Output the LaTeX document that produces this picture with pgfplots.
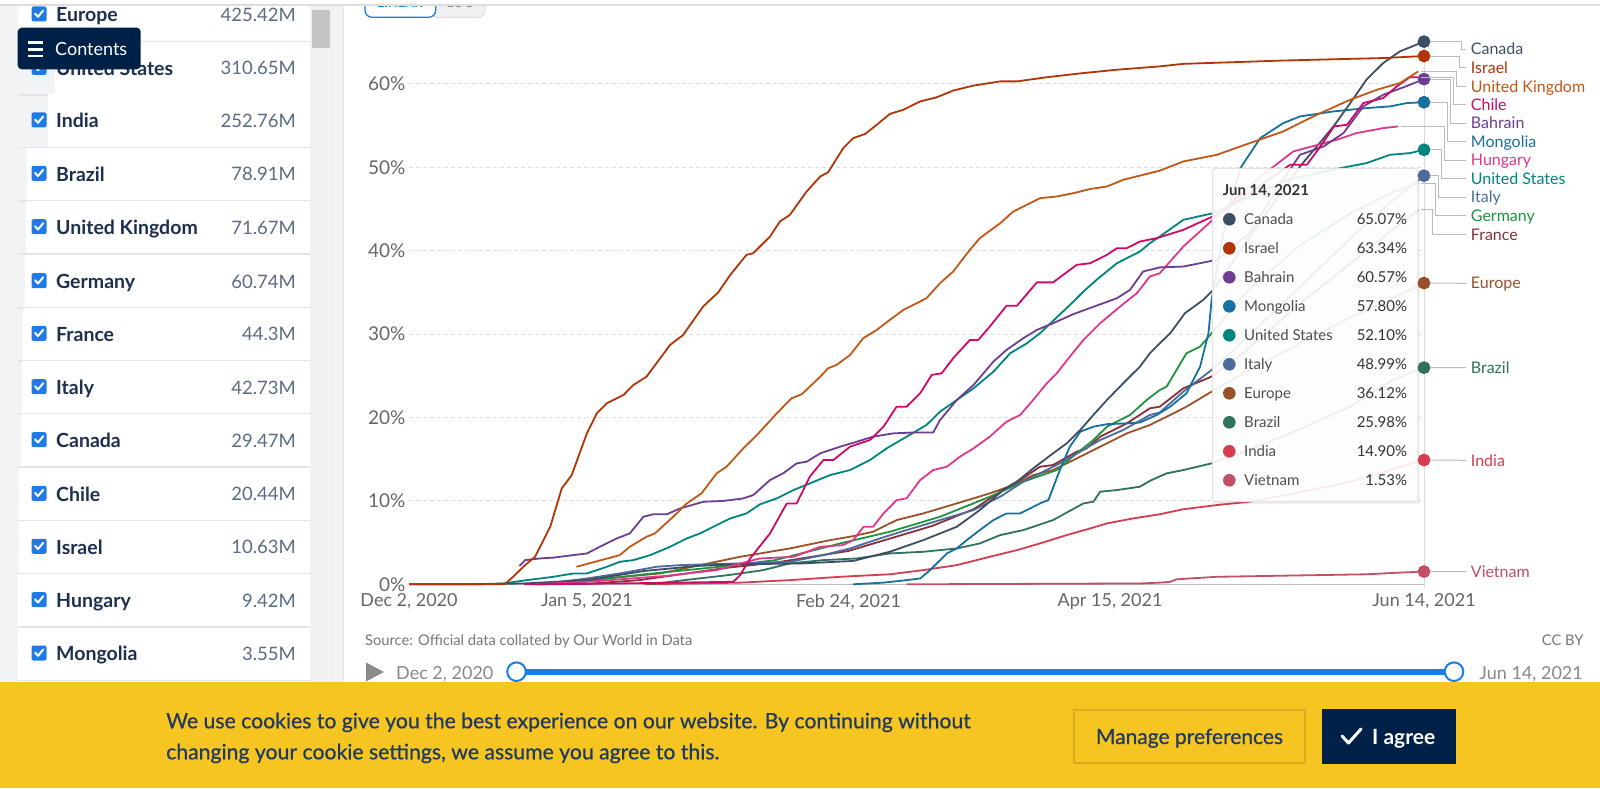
\documentclass[border=0pt]{standalone}
\usepackage{pgfplots}
\pgfplotsset{compat=1.18}
\usepackage{fontspec}
\setmainfont{Lato}
\newfontfamily\latosb[FakeBold=0.6]{Lato}
\newcommand\fs[1]{\fontsize{#1}{#1}\selectfont}
\definecolor{cCanada}{HTML}{3C4E66}
\definecolor{cIsrael}{HTML}{B13507}
\definecolor{cUK}{HTML}{C05917}
\definecolor{cChile}{HTML}{CF0A66}
\definecolor{cBahrain}{HTML}{6D3E91}
\definecolor{cMongolia}{HTML}{18709F}
\definecolor{cHungary}{HTML}{E0388C}
\definecolor{cUS}{HTML}{00847E}
\definecolor{cItaly}{HTML}{4C6A9C}
\definecolor{cGermany}{HTML}{1E943E}
\definecolor{cFrance}{HTML}{883039}
\definecolor{cEurope}{HTML}{9A5129}
\definecolor{cBrazil}{HTML}{2F725F}
\definecolor{cIndia}{HTML}{D73C50}
\definecolor{cVietnam}{HTML}{C15065}
\definecolor{navy}{HTML}{002147}
\definecolor{sbname}{HTML}{1D2F4E}
\definecolor{sbval}{HTML}{5B6B84}
\definecolor{tickc}{HTML}{666666}
\definecolor{gridc}{HTML}{DDDDDD}
\definecolor{basec}{HTML}{BDBDBD}
\definecolor{cookie}{HTML}{F7C521}
\definecolor{cookiebd}{HTML}{D9AC22}
\definecolor{cookietxt}{HTML}{1F3A60}
\definecolor{sliderblue}{HTML}{1A80E8}
\definecolor{chkblue}{HTML}{1E7BE6}
\definecolor{panelgray}{HTML}{F2F3F5}
\definecolor{sepc}{HTML}{E2E6EC}
\definecolor{conn}{HTML}{BBBBBB}
\definecolor{trackc}{HTML}{F1F1F1}
\definecolor{thumbc}{HTML}{C4C4C4}
\definecolor{borderc}{HTML}{E3E3E3}
\definecolor{hoverc}{HTML}{DADADA}
\definecolor{ttborder}{HTML}{E2E2E2}
\definecolor{ttitle}{HTML}{333333}
\definecolor{tname}{HTML}{4D4D4D}
\definecolor{logbg}{HTML}{F0F0F0}
\definecolor{logbd}{HTML}{DDDDDD}
\definecolor{g88}{HTML}{888888}
\definecolor{g77}{HTML}{777777}
\definecolor{g8a}{HTML}{8A8A8A}
\begin{document}
\begin{tikzpicture}[x=1pt,y=1pt]
% ---------- backgrounds ----------
\begin{scope}[x=1pt,y=-1pt,yshift=788pt]
\fill[white] (0,0) rectangle (1600,788);
\fill[panelgray] (0,0) rectangle (343,682);
\foreach \c/\l in {15/18,68.3/55,121/47.7,174.3/26.7,227.7/26,281.7/25,334.3/22.7,387.7/21.7,440.7/20.7,494.3/19.3,547.3/18.7,600.7/18.3,654/18.3,707.3/18}{
  \fill[white] (\l,\c-26.5) rectangle (310,\c+26);
  \draw[sepc,line width=1.5pt] (18,\c+26.5) -- (310,\c+26.5);
}
\fill[trackc] (310,0) rectangle (333,682);
\fill[thumbc] (312,10) rectangle (330,48);
\draw[borderc,line width=1pt] (343,0) -- (343,682);
\end{scope}

% ---------- chart ----------
\begin{axis}[
  at={(409pt,203.7pt)}, anchor=south west,
  scale only axis, width=1015pt, height=567.12pt,
  xmin=0, xmax=194, ymin=0, ymax=68,
  clip=false,
  axis line style={draw=none},
  major tick length=0pt,
  xtick={0,34,84,134,194},
  xticklabels={{Dec 2, 2020},{Jan 5, 2021},{Feb 24, 2021},{Apr 15, 2021},{Jun 14, 2021}},
  ytick={0,10,20,30,40,50,60},
  yticklabels={0\%,10\%,20\%,30\%,40\%,50\%,60\%},
  ymajorgrids,
  major grid style={draw=gridc, line width=1pt, dash pattern=on 4pt off 3pt},
  tick label style={font=\fs{18}, text=tickc},
  yticklabel style={font=\fs{19}},
  xticklabel style={yshift=-6pt},
  every axis plot/.append style={line width=1.8pt, line join=round, mark=none},
]
\draw[color=hoverc,line width=1pt] (axis cs:194,-0.4) -- (axis cs:194,65);
\draw[color=basec,line width=1.2pt] (axis cs:0,0) -- (axis cs:194,0);
% Vietnam
\addplot[cVietnam] coordinates {(95.1,0)(139.7,0.1)(143.5,0.2)(145.5,0.3)(146.7,0.6)(154.4,0.9)(173.5,1.1)(183.0,1.2)(189.4,1.4)(194,1.53)};
% India
\addplot[cIndia] coordinates {(45,0)(63.3,0.2)(72.8,0.5)(82.4,0.9)(91.9,1.2)(98.3,1.7)(104.7,2.3)(111.0,3.3)(116.2,4.1)(120.6,4.9)(125.7,5.9)(130.2,6.7)(133.4,7.3)(138.4,7.9)(143.5,8.4)(148.0,9.0)(154.4,9.5)(160.7,9.9)(170,11.0)(180,12.3)(188,13.8)(194,14.90)};
% Brazil
\addplot[cBrazil] coordinates {(46,0)(54,0.6)(61,1.1)(63.3,1.3)(67.7,1.7)(72.8,2.5)(79.2,2.9)(85.6,3.1)(91.9,3.7)(98.3,3.9)(104.7,4.3)(109.1,4.9)(113.0,5.9)(117.4,6.5)(123.1,7.7)(128.9,9.7)(130.8,9.9)(132.1,11.1)(135.3,11.3)(139.7,11.7)(141.6,12.4)(144.8,13.3)(148.0,13.7)(153.4,14.5)(160,16.0)(168.4,18.1)(179.9,21.3)(188,24.5)(194,25.98)};
% Europe
\addplot[cEurope] coordinates {(25,0)(34,0.5)(48,1.3)(63.3,3.3)(67.1,3.7)(72.8,4.3)(80.5,5.3)(84.3,5.7)(88.7,6.3)(93.2,7.7)(98.3,8.5)(104.7,9.7)(111.0,10.9)(115.5,11.9)(119.3,13.1)(123.1,13.7)(127.0,14.9)(130.2,15.9)(133.4,16.9)(137.2,18.1)(141.6,19.1)(143.5,19.7)(145.5,20.3)(148.6,21.3)(153.4,23.1)(160,25.5)(170,28.8)(180,32)(187,34)(194,36.12)};
% France
\addplot[cFrance] coordinates {(25,0)(34,0.05)(44,0.5)(61,2.0)(70,2.6)(84,4.0)(92,5.5)(100,7.0)(107.9,9.0)(114,11.5)(118,13.0)(120.6,14.1)(123.1,14.3)(127.6,15.9)(129.5,16.3)(132.1,17.7)(137.2,19.3)(141.6,21.1)(143.5,21.3)(148.0,23.5)(153.4,24.9)(160,28)(170,33.5)(180,38.5)(188,42.5)(192.9,44.9)};
% Germany
\addplot[cGermany] coordinates {(25,0)(34,0.4)(45,1.2)(61,2.2)(70,2.9)(82.4,4.9)(91.9,6.3)(101.5,8.1)(111.0,10.5)(117.4,12.3)(123.8,13.7)(127.6,15.7)(130.8,17.3)(133.4,18.9)(137.8,20.3)(141.0,22.1)(143.5,23.3)(144.8,23.7)(148.6,27.7)(151.2,28.5)(153.4,30.1)(160,35)(170,40.5)(180,44.5)(188,47)(192.9,48.1)};
% Italy
\addplot[cItaly] coordinates {(25,0)(34,0.7)(40.3,1.3)(47.3,2.1)(51.8,2.3)(56.9,2.4)(63.3,2.5)(72.8,2.7)(79.2,3.5)(84.3,4.3)(90.0,5.5)(95.1,6.5)(101.5,7.7)(107.9,8.9)(113.0,10.5)(117.4,12.3)(120.6,13.3)(124.4,14.5)(128.3,15.9)(132.1,17.3)(136.5,18.5)(141.6,20.3)(143.5,20.6)(148.0,23.1)(153.4,25.7)(160,29.5)(170,35.5)(180,41.5)(188,46)(194,48.99)};
% United States
\addplot[cUS] coordinates {(0,0)(12,0)(18.0,0.1)(22.5,0.5)(27.6,0.9)(31.4,1.3)(34.0,1.3)(37.8,2.1)(40.3,2.7)(42.9,2.9)(46.1,3.5)(49.9,4.5)(53.1,5.5)(55.6,6.1)(58.8,7.1)(61.4,7.9)(64.5,8.5)(67.1,9.6)(70.3,10.3)(73.5,11.3)(76.6,12.1)(80.5,13.1)(84.3,13.7)(88.1,14.9)(91.3,16.3)(95.1,17.7)(98.9,19.1)(101.5,20.7)(104.7,22.1)(107.9,23.5)(111.7,25.5)(114.9,27.7)(118.1,28.9)(120.6,30.1)(123.8,32.0)(127.0,33.9)(128.9,35.1)(131.4,36.5)(135.3,38.5)(139.7,39.9)(141.6,40.9)(143.5,41.7)(148.0,43.7)(153.7,44.5)(160,46.3)(168,48.5)(178.0,49.9)(183.0,50.5)(187.5,51.5)(191.3,51.7)(194,52.10)};
% Mongolia
\addplot[cMongolia] coordinates {(84.9,0)(90.7,0.2)(95.1,0.5)(97.7,0.7)(99.6,1.7)(102.8,3.7)(104.7,4.3)(106.6,5.3)(109.1,6.5)(111.7,7.7)(114.2,8.5)(116.8,8.5)(118.7,9.1)(120.6,9.7)(122.2,10.1)(124.4,13.7)(126.3,16.5)(128.3,18.3)(130.8,18.9)(133.4,19.2)(137.2,19.3)(139.7,19.4)(142.9,20.3)(145.5,21.3)(148.6,22.9)(151.2,26.1)(152.8,30.1)(153.4,34.1)(155,40)(157,46)(159,50)(162.7,53.5)(167.1,55.3)(170.3,56.1)(176.7,56.7)(183.0,57.1)(187.5,57.3)(190.7,57.7)(194,57.80)};
% Canada
\addplot[cCanada] coordinates {(0,0)(12,0)(22,0.1)(34,0.5)(45,1.6)(55,2.2)(63,2.4)(75,2.5)(84.9,2.8)(91.9,3.9)(98.3,5.3)(104.7,6.9)(109.1,8.9)(113.6,11.3)(116.2,12.3)(119.3,13.9)(123.1,15.7)(125.7,16.9)(128.3,18.5)(130.8,20.3)(133.4,22.1)(136.5,24.1)(139.7,26.1)(141.6,27.7)(143.5,28.9)(145.5,30.1)(148.3,32.5)(151.8,34.1)(153.7,35.3)(160,41)(165,45.5)(170.3,50.1)(173.5,52.5)(176.7,54.9)(179.9,57.7)(183.0,60.5)(186.2,62.5)(189.4,63.9)(194,65.07)};
% Hungary
\addplot[cHungary] coordinates {(24,0)(34,0.3)(49,1.0)(58.8,1.7)(63.3,2.5)(67.1,3.1)(73.5,3.3)(78.6,4.5)(83.0,4.7)(84.9,5.3)(86.9,6.9)(88.7,6.9)(90.7,8.5)(93.2,10.1)(95.1,10.3)(97.7,12.5)(100.2,13.7)(102.8,14.1)(105.3,15.3)(107.9,16.3)(111.0,17.7)(114.2,19.5)(116.8,20.3)(119.3,22.1)(121.9,24.1)(123.8,25.3)(126.3,27.3)(128.9,29.3)(132.1,31.3)(135.9,33.3)(139.1,34.9)(141.6,36.9)(143.5,37.3)(148.0,40.5)(155,44.5)(162,48.5)(169.0,51.9)(177.3,53.3)(181.1,54.1)(186.2,54.7)(189.1,54.9)};
% Bahrain
\addplot[cBahrain] coordinates {(21.1,2.2)(22.2,2.9)(25.0,3.1)(27.6,3.2)(31.4,3.5)(34.0,3.7)(37.1,4.7)(39.7,5.5)(42.2,6.1)(44.8,8.1)(46.7,8.4)(49.3,8.4)(51.8,9.1)(56.3,9.9)(60.1,10.0)(63.9,10.3)(65.8,10.7)(69.0,12.5)(71.5,13.3)(74.1,14.5)(76.0,14.7)(78.6,15.7)(82.4,16.5)(85.6,17.1)(88.7,17.7)(92.6,18.1)(96.4,18.2)(100.2,18.2)(101.5,19.7)(104.7,22.1)(107.9,23.9)(111.7,26.7)(114.2,28.1)(117.4,29.5)(120.0,30.5)(123.1,31.3)(127.0,32.4)(130.5,33.2)(135.3,34.3)(137.8,35.3)(140.3,37.5)(143.5,38.0)(148.0,38.1)(154.4,38.9)(160.7,42.1)(166.5,48.0)(170.3,51.5)(174.8,52.5)(178.6,54.1)(182.4,57.3)(186.2,58.7)(190.1,59.6)(194,60.57)};
% Chile
\addplot[cChile] coordinates {(22,0)(40,0.1)(62.0,0.3)(63.3,1.1)(65.2,3.1)(69.0,6.1)(72.2,9.7)(74.1,9.7)(76.6,12.9)(79.2,14.9)(81.1,14.9)(84.3,16.5)(88.1,17.3)(90.7,18.9)(93.2,21.3)(95.1,21.3)(97.7,22.9)(99.9,25.1)(101.8,25.3)(104.0,27.1)(107.2,29.3)(108.8,29.3)(111.0,30.9)(114.2,33.4)(116.2,33.4)(120.0,36.2)(123.1,36.2)(127.6,38.3)(130.2,38.5)(133.4,39.5)(135.3,40.3)(137.2,40.3)(139.7,41.1)(142.9,41.5)(148.0,42.5)(155,44.5)(162,47.5)(168.4,50.3)(171.6,50.3)(174.2,52.5)(176.8,54.9)(179.3,55.1)(182.4,57.7)(186.2,58.3)(188.8,59.7)(191.3,60.8)(192.9,60.8)};
% United Kingdom
\addplot[cUK] coordinates {(32.0,2.1)(40.3,3.5)(42.2,4.5)(45.4,5.7)(47.0,6.1)(50.5,8.1)(53.1,9.7)(55.9,10.9)(58.8,13.3)(60.7,14.1)(63.9,16.3)(66.8,18.1)(70.3,20.5)(73.1,22.3)(75.1,22.8)(78.6,24.9)(80.1,25.9)(81.7,26.3)(84.3,27.5)(86.8,29.5)(89.4,30.5)(91.9,31.7)(94.5,32.9)(98.9,34.3)(101.5,36.1)(104.0,37.5)(107.2,40.1)(109.1,41.5)(113.0,43.3)(115.5,44.7)(118.7,45.7)(120.6,46.3)(123.8,46.5)(127.0,46.9)(130.2,47.4)(133.4,47.7)(136.5,48.5)(141.6,49.3)(143.5,49.6)(148.0,50.7)(154.4,51.5)(160.7,52.9)(167.1,54.3)(173.5,56.3)(179.9,58.1)(185.0,59.3)(189.4,60.1)(192.9,61.5)};
% Israel
\addplot[cIsrael] coordinates {(0,0)(18.3,0)(19.9,0.91)(22.2,2.31)(24.1,3.31)(27.0,6.91)(29.2,11.51)(31.1,13.1)(34.0,18.1)(35.9,20.5)(37.8,21.7)(41.0,22.7)(42.9,23.9)(45.4,24.9)(49.9,28.7)(52.4,29.9)(56.2,33.3)(59.1,35.0)(61.4,37.1)(64.5,39.5)(65.8,39.7)(69.0,41.7)(70.9,43.5)(72.8,44.3)(76.0,47.1)(78.6,48.9)(80.1,49.4)(83.0,52.3)(84.9,53.5)(87.2,54.0)(89.4,55.1)(91.9,56.4)(94.5,56.9)(97.7,57.9)(100.9,58.4)(104.0,59.2)(107.9,59.8)(113.0,60.3)(116.2,60.3)(121.9,60.8)(128.9,61.3)(135.3,61.7)(143.5,62.1)(147.9,62.4)(167.0,62.8)(186.2,63.1)(194,63.34)};
% tooltip box (semi-opaque, over the lines)
\fill[black,opacity=0.06,rounded corners=2pt] (axis cs:153.8,49.75) rectangle (axis cs:193.15,9.6);
\filldraw[fill=white,fill opacity=0.9,draw=ttborder,line width=1pt,rounded corners=2pt] (axis cs:153.61,49.88) rectangle (axis cs:192.85,9.90);
% end dots
\addplot[only marks,mark=*,mark size=5.5pt,color=cVietnam] coordinates {(194,1.53)};
\addplot[only marks,mark=*,mark size=5.5pt,color=cIndia] coordinates {(194,14.90)};
\addplot[only marks,mark=*,mark size=5.5pt,color=cBrazil] coordinates {(194,25.98)};
\addplot[only marks,mark=*,mark size=5.5pt,color=cEurope] coordinates {(194,36.12)};
\addplot[only marks,mark=*,mark size=5.5pt,color=cItaly] coordinates {(194,48.99)};
\addplot[only marks,mark=*,mark size=5.5pt,color=cUS] coordinates {(194,52.10)};
\addplot[only marks,mark=*,mark size=5.5pt,color=cMongolia] coordinates {(194,57.80)};
\addplot[only marks,mark=*,mark size=5.5pt,color=cBahrain] coordinates {(194,60.57)};
\addplot[only marks,mark=*,mark size=5.5pt,color=cIsrael] coordinates {(194,63.34)};
\addplot[only marks,mark=*,mark size=5.5pt,color=cCanada] coordinates {(194,65.07)};
\end{axis}

% ---------- overlays in pixel coordinates ----------
\begin{scope}[x=1pt,y=-1pt,yshift=788pt]
\node[anchor=base west,inner sep=0,text=ttitle] at (1222.7,196) {\fs{15}\bfseries Jun 14, 2021};
\foreach \n/\v/\c/\i in {Canada/65.07/cCanada/0,Israel/63.34/cIsrael/1,Bahrain/60.57/cBahrain/2,Mongolia/57.80/cMongolia/3,United States/52.10/cUS/4,Italy/48.99/cItaly/5,Europe/36.12/cEurope/6,Brazil/25.98/cBrazil/7,India/14.90/cIndia/8,Vietnam/1.53/cVietnam/9}{
  \fill[\c] (1229.3,219.3+29*\i) circle (6.3);
  \node[anchor=base west,inner sep=0,text=tname] at (1244,224.7+29*\i) {\fs{15}\n};
  \node[anchor=base east,inner sep=0,text=ttitle] at (1407.3,224.7+29*\i) {\fs{15}\v\%};
}
\begin{scope}[conn,line width=1pt]
\draw (1430,42) -- (1461.7,42) -- (1461.7,49.3) -- (1466,49.3);
\draw (1430,56.7) -- (1459,56.7) -- (1459,67.7) -- (1466,67.7);
\draw (1421,71.7) -- (1456,71.7) -- (1456,86.7) -- (1466,86.7);
\draw (1421,77.3) -- (1453,77.3) -- (1453,105) -- (1466,105);
\draw (1430,79.2) -- (1450,79.2) -- (1450,123.3) -- (1466,123.3);
\draw (1430,102.3) -- (1447,102.3) -- (1447,141.7) -- (1466,141.7);
\draw (1401,126.7) -- (1444,126.7) -- (1444,160.3) -- (1466,160.3);
\draw (1430,149.8) -- (1441,149.8) -- (1441,178.7) -- (1466,178.7);
\draw (1430,175.7) -- (1438,175.7) -- (1438,197.3) -- (1466,197.3);
\draw (1421,183.3) -- (1435,183.3) -- (1435,216) -- (1466,216);
\draw (1421,210) -- (1432,210) -- (1432,234.7) -- (1466,234.7);
\draw (1430,283.1) -- (1466,283.3);
\draw (1430,367.6) -- (1466,367.7);
\draw (1430,460) -- (1466,460.3);
\draw (1430,571.5) -- (1466,571.7);
\end{scope}
\foreach \n/\c/\b in {Canada/cCanada/55,Israel/cIsrael/73.4,United Kingdom/cUK/92.4,Chile/cChile/110.7,Bahrain/cBahrain/129,Mongolia/cMongolia/147.4,Hungary/cHungary/166,United States/cUS/184.4,Italy/cItaly/203,Germany/cGermany/221.7,France/cFrance/240.4,Europe/cEurope/289,Brazil/cBrazil/373.4,India/cIndia/466,Vietnam/cVietnam/577.4}{
  \node[anchor=base west,inner sep=0,text=\c] at (1470.7,\b) {\fs{16}\n};
}
\foreach \n/\v/\c in {Europe/425.42M/15,United States/310.65M/68.3,India/252.76M/121,Brazil/78.91M/174.3,United Kingdom/71.67M/227.7,Germany/60.74M/281.7,France/44.3M/334.3,Italy/42.73M/387.7,Canada/29.47M/440.7,Chile/20.44M/494.3,Israel/10.63M/547.3,Hungary/9.42M/600.7,Mongolia/3.55M/654}{
  \fill[chkblue,rounded corners=2pt] (31.5,\c-8.5) rectangle (46.5,\c+6.5);
  \draw[white,line width=2pt,line cap=round,line join=round] (35,\c-1.5) -- (38,\c+1.8) -- (43.2,\c-4.5);
  \node[anchor=base west,inner sep=0,text=sbname] at (56,\c+6.8) {\fs{19.5}\bfseries \n};
  \node[anchor=base east,inner sep=0,text=sbval] at (296,\c+6.6) {\fs{18.5}\v};
}
\fill[navy,rounded corners=4pt] (17.7,27.7) rectangle (140.7,69.3);
\foreach \yy in {42.7,49.3,56} {\draw[white,line width=2.5pt] (28,\yy) -- (43,\yy);}
\node[anchor=base west,inner sep=0,text=white] at (55,55.8) {\fs{18}Contents};
\filldraw[fill=logbg,draw=logbd,line width=1pt,rounded corners=7pt] (430,-20) rectangle (485,17.3);
\filldraw[fill=white,draw=sliderblue,line width=1.3pt,rounded corners=7pt] (365,-20) rectangle (435.7,17.3);
\node[anchor=base,inner sep=0,text=sliderblue] at (400,8) {\fs{13}\bfseries LINEAR};
\node[anchor=base,inner sep=0,text=g88] at (460,8) {\fs{13}\bfseries LOG};
\fill[white] (0,-5) rectangle (1600,4.2);
\draw[logbd,line width=1.6pt] (0,5) -- (1600,5);
\node[anchor=base west,inner sep=0,text=g77] at (365,645.7) {\fs{14.7}Source: Official data collated by Our World in Data};
\node[anchor=base east,inner sep=0,text=g77] at (1583.7,645.7) {\fs{14.7}CC BY};
\fill[g8a] (366,662.5) -- (384,672) -- (366,681.5) -- cycle;
\node[anchor=base west,inner sep=0,text=g88] at (396,679) {\fs{18}Dec 2, 2020};
\fill[sliderblue] (516,668.5) rectangle (1454,675);
\filldraw[fill=white,draw=sliderblue,line width=2pt] (516.5,671.7) circle (9.3);
\filldraw[fill=white,draw=sliderblue,line width=2pt] (1454,671.7) circle (9.3);
\node[anchor=base east,inner sep=0,text=g88] at (1583,679) {\fs{18}Jun 14, 2021};
\fill[cookie] (0,682) rectangle (1600,788);
\node[anchor=base west,inner sep=0,text=cookietxt] at (166,728.3) {\fs{21.2}\latosb We use cookies to give you the best experience on our website. By continuing without};
\node[anchor=base west,inner sep=0,text=cookietxt] at (166,759.3) {\fs{21.2}\latosb changing your cookie settings, we assume you agree to this.};
\draw[cookiebd,line width=2pt] (1074,710) rectangle (1305,763);
\node[anchor=base,inner sep=0,text=cookietxt] at (1189.5,744) {\fs{21}\latosb Manage preferences};
\fill[navy] (1322,709) rectangle (1456,764);
\draw[white,line width=3pt,line cap=round,line join=round] (1342,736) -- (1348.5,743) -- (1361,729);
\node[anchor=base west,inner sep=0,text=white] at (1372,744) {\fs{21}\bfseries I agree};
\end{scope}
\pgfresetboundingbox
\path[use as bounding box] (0,0) rectangle (1600,788);
\end{tikzpicture}
\end{document}
